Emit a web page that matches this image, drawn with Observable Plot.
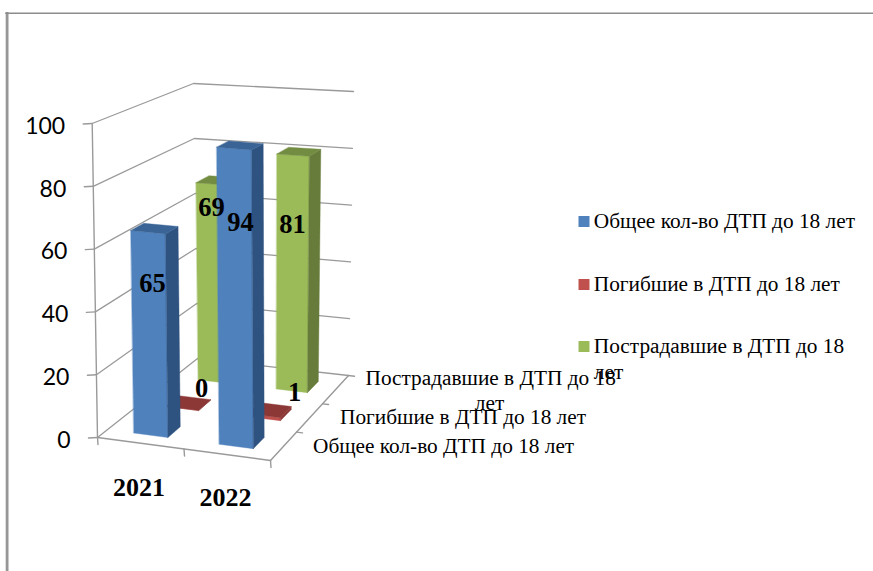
<!DOCTYPE html>
<html><head><meta charset="utf-8">
<style>html,body{margin:0;padding:0;background:#fff}svg{display:block}</style>
<script src="https://cdn.jsdelivr.net/npm/d3@7"></script>
<script src="https://cdn.jsdelivr.net/npm/@observablehq/plot@0.6"></script>
</head><body><div id="chart"></div>
<script>
const years = ["2021", "2022"];
const seriesNames = ["Общее кол-во ДТП до 18 лет", "Погибшие в ДТП до 18 лет", "Пострадавшие в ДТП до 18 лет"];
const totalValues = [65, 94];
const deadValues = [0, 1];
const injuredValues = [69, 81];
const valueTicks = [0, 20, 40, 60, 80, 100];
const seriesValues = [totalValues, deadValues, injuredValues];

const W = 873, H = 571;
const palette = [
  {front: "#4f81bd", side: "#2f5380", top: "#3a6496"},
  {front: "#c0504d", side: "#8c3836", top: "#8c3836"},
  {front: "#9bbb59", side: "#677c3b", top: "#728c42"}
];
// Oblique view of the chart box: corners as [category end, depth end, value end]
const box = {
  "000": [97, 437], "100": [270, 460], "010": [197, 358], "110": [348, 375],
  "001": [91.7, 123], "101": [268, 137], "011": [193, 83], "111": [353, 91]
};
const lerp = (a, b, t) => a + (b - a) * t;
function view(u, v, value) {
  const w = value / 100;
  return [0, 1].map(k => lerp(
    lerp(lerp(box["000"][k], box["100"][k], u), lerp(box["010"][k], box["110"][k], u), v),
    lerp(lerp(box["001"][k], box["101"][k], u), lerp(box["011"][k], box["111"][k], u), v), w));
}

// Faces of the 3D columns, painted from back to front
const halfU = 0.1, halfV = 0.0667, shiftU = 0.004;
const faces = [];
function face(id, fill, pts) {
  pts.forEach(([x, y]) => faces.push({id, fill, x, y}));
}
[2, 1, 0].forEach(s => {
  years.forEach((yr, c) => {
    const val = seriesValues[s][c];
    const u0 = (c + 0.5) / 2 - halfU + shiftU, u1 = (c + 0.5) / 2 + halfU + shiftU;
    const v0 = (s + 0.5) / 3 - halfV, v1 = (s + 0.5) / 3 + halfV;
    const id = `${s}-${c}`;
    face(id + "f", palette[s].front, [view(u0, v0, 0), view(u1, v0, 0), view(u1, v0, val), view(u0, v0, val)]);
    face(id + "s", palette[s].side, [view(u1, v0, 0), view(u1, v1, 0), view(u1, v1, val), view(u1, v0, val)]);
    face(id + "t", palette[s].top, [view(u0, v0, val), view(u1, v0, val), view(u1, v1, val), view(u0, v1, val)]);
  });
});

// Grid
const gridLeft = valueTicks.map(t => [view(0, 0, t), view(0, 1, t), view(1, 1, t)]);
const gridRows = gridLeft.flatMap((pts, i) => pts.map(([x, y]) => ({i, x, y})));
const seg = (a, b, id) => [{id, x: a[0], y: a[1]}, {id, x: b[0], y: b[1]}];
const frame = [
  ...seg(view(0, 0, 0), view(0, 0, 100), "axis"),
  ...seg(view(0, 0, 0), view(1, 0, 0), "front"),
  ...seg(view(1, 0, 0), view(1, 1, 0), "right")
];
const ticks = [
  ...valueTicks.flatMap(t => { const p = view(0, 0, t); return seg(p, [p[0] - 9, p[1] + 0.5], "vt" + t); }),
  ...[0, 0.5, 1].flatMap(u => { const p = view(u, 0, 0); return seg(p, [p[0] + 0.5, p[1] + 7], "ct" + u); }),
  ...[1/3, 2/3, 1].flatMap(v => { const p = view(1, v, 0); return seg(p, [p[0] + 6, p[1] + 0.7], "st" + v); })
];

const valueLabels = valueTicks.map(t => { const p = view(0, 0, t); return {t: String(t), x: p[0] - 27, y: p[1] + 3}; });

// Where each text sits on the page
const catLabelAt = [[138.5, 487], [225, 497]];
const depthLabelAt = [[312.5, 445.5], [339.5, 416.5], [365, 377.5]];
const depthWrapAt = [489, 403];
const legendRows = [221, 284, 346];
const legendWrapY = 372;
const dataLabelAt = [
  [[152, 283], [240, 222]],
  [[201, 388], [294, 392]],
  [[211, 207], [292, 224]]
];
const dataLabels = seriesValues.flatMap((vals, s) => vals.map((v, c) => ({t: String(v), x: dataLabelAt[s][c][0], y: dataLabelAt[s][c][1]})));
const legend = seriesNames.map((n, i) => ({n, y: legendRows[i], fill: palette[i].front}));
const depthLabels = seriesNames.map((n, i) => ({n: i === 2 ? "Пострадавшие в ДТП до 18" : n, x: depthLabelAt[i][0], y: depthLabelAt[i][1]}));

const serif = "'Liberation Serif','Times New Roman',serif";
const gridColor = "#9a9a9a";
const labelSize = 21.3;
const chart = Plot.plot({
  width: W, height: H, margin: 0,
  x: {domain: [0, W], range: [0, W], axis: null},
  y: {domain: [0, H], range: [0, H], axis: null},
  color: {type: "identity"},
  marks: [
    Plot.ruleX([6.6], {y1: 12, y2: H, stroke: "#969696", strokeWidth: 2.8}),
    Plot.ruleY([12.7], {x1: 5.2, x2: W, stroke: "#8c8c8c", strokeWidth: 1.6}),
    Plot.line(gridRows, {x: "x", y: "y", z: "i", stroke: gridColor, strokeWidth: 1.3, curve: "linear"}),
    Plot.line(frame, {x: "x", y: "y", z: "id", stroke: gridColor, strokeWidth: 1.4}),
    Plot.line(ticks, {x: "x", y: "y", z: "id", stroke: gridColor, strokeWidth: 1.4}),
    Plot.line(faces, {x: "x", y: "y", z: "id", fill: "fill", stroke: "fill", strokeWidth: 0.4, curve: "linear-closed"}),
    Plot.text(valueLabels, {x: "x", y: "y", text: "t", textAnchor: "end", fontFamily: "Lato", fontSize: 23, fill: "#000"}),
    Plot.text(years, {x: (d, i) => catLabelAt[i][0], y: (d, i) => catLabelAt[i][1], text: d => d, fontFamily: serif, fontWeight: "bold", fontSize: 26, fill: "#000"}),
    Plot.text(depthLabels, {x: "x", y: "y", text: "n", textAnchor: "start", fontFamily: serif, fontSize: labelSize, fill: "#000"}),
    Plot.text(["лет"], {x: depthWrapAt[0], y: depthWrapAt[1], text: d => d, fontFamily: serif, fontSize: labelSize, fill: "#000"}),
    Plot.text(dataLabels, {x: "x", y: "y", text: "t", fontFamily: serif, fontWeight: "bold", fontSize: 26.5, fill: "#000"}),
    Plot.dot(legend, {x: 583.5, y: "y", symbol: "square", r: 6.2, fill: "fill", stroke: "none"}),
    Plot.text(legend.map((d, i) => ({...d, n: i === 2 ? "Пострадавшие в ДТП до 18" : d.n})), {x: 593.3, y: "y", text: "n", textAnchor: "start", fontFamily: serif, fontSize: labelSize, fill: "#000"}),
    Plot.text(["лет"], {x: 593.3, y: legendWrapY, text: d => d, textAnchor: "start", fontFamily: serif, fontSize: labelSize, fill: "#000"})
  ]
});
document.getElementById("chart").append(chart);
</script></body></html>
